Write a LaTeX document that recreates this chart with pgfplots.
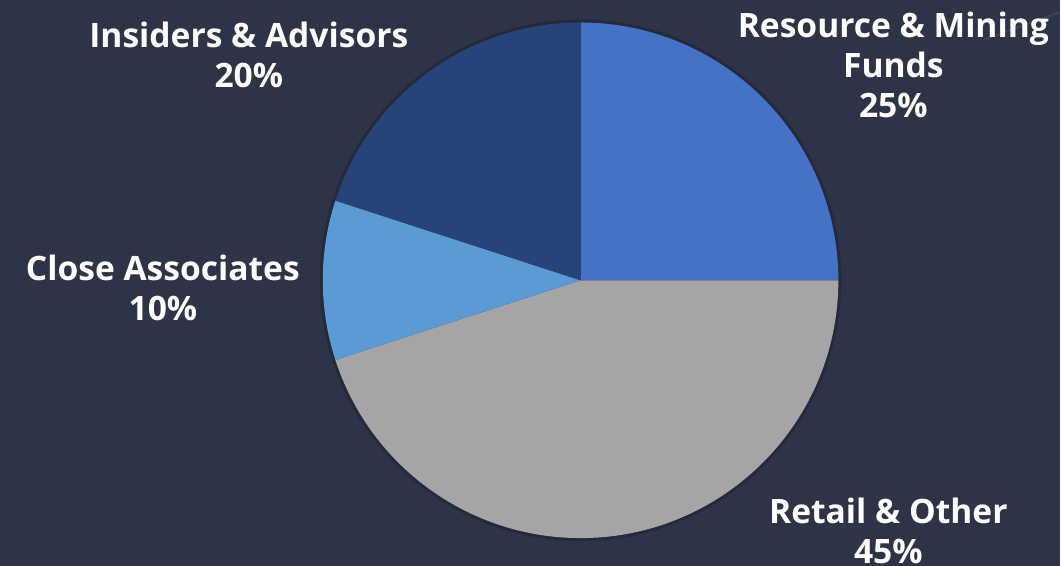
\documentclass[border=0pt]{standalone}
\usepackage{pgfplots}
\usepackage{pgfplotstable}
\pgfplotsset{compat=1.18}
\usepackage{fontspec}
\setmainfont{Open Sans}
\definecolor{bg}{HTML}{2E3447}
\definecolor{slice0}{HTML}{4472C4}
\definecolor{slice1}{HTML}{A5A5A5}
\definecolor{slice2}{HTML}{5B9BD5}
\definecolor{slice3}{HTML}{264478}
\pgfplotstableread{
pct
25
45
10
20
}\pietable
\begin{document}
\begin{tikzpicture}
\fill[bg] (0,0) rectangle (530.5pt,-283pt);
\draw[white,opacity=0.08,line width=0.8pt] (492pt,-20pt) -- (530.5pt,-6pt);
\begin{axis}[
  scale only axis, width=258pt, height=258pt,
  hide axis, xmin=-1, xmax=1, ymin=-1, ymax=1,
  clip=false,
  at={(290.5pt,-140.25pt)}, anchor=center]
\addplot[draw=none] coordinates {(0,0)};
\fill[black,opacity=0.18] (axis cs:0,0) circle[radius=130.5pt];
\xdef\startangle{90}
\pgfplotsinvokeforeach{0,1,2,3}{
  \pgfplotstablegetelem{#1}{pct}\of\pietable
  \pgfmathsetmacro\endangle{\startangle-3.6*\pgfplotsretval}
  \edef\temp{\noexpand\fill[slice#1] (axis cs:0,0) -- (axis cs:{cos(\startangle)},{sin(\startangle)}) arc[start angle=\startangle, end angle=\endangle, radius=129pt] -- cycle;}
  \temp
  \xdef\startangle{\endangle}
}
\end{axis}
\tikzset{lab/.style={text=white, font=\fontsize{16.8}{20}\selectfont\bfseries, align=center, inner sep=0pt, anchor=center}}
\node[lab] at (124.5pt,-27.5pt) {Insiders \& Advisors\\20\%};
\node[lab] at (447pt,-32.5pt) {Resource \& Mining\\Funds\\25\%};
\node[lab] at (81.5pt,-144pt) {Close Associates\\10\%};
\node[lab] at (444.5pt,-265.5pt) {Retail \& Other\\45\%};
\end{tikzpicture}
\end{document}
